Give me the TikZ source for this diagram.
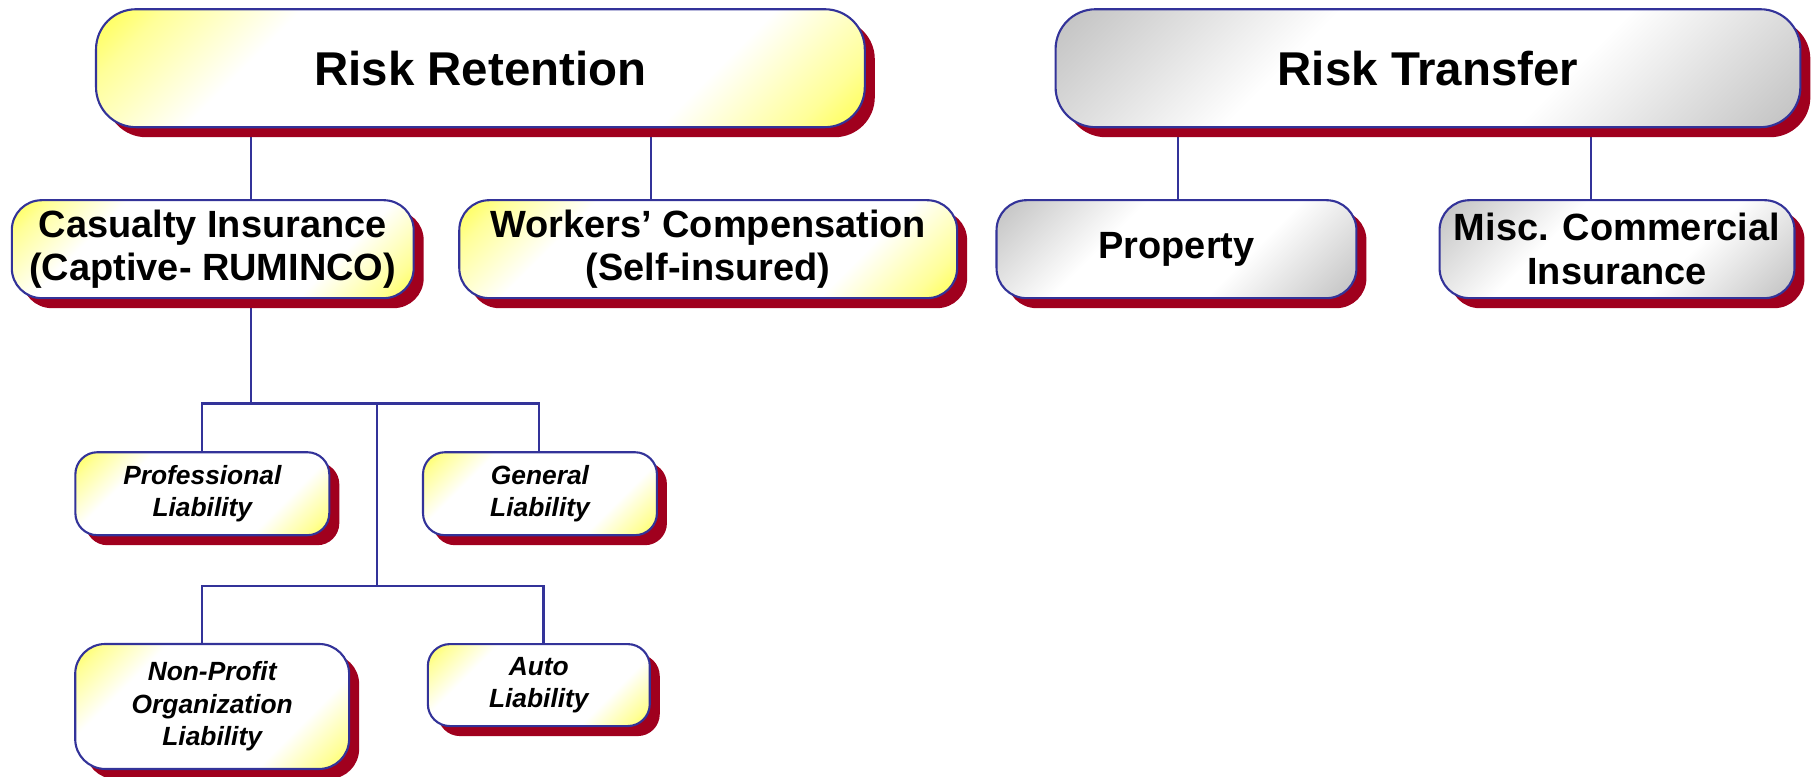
\documentclass[tikz,border=0pt]{standalone}
\usepackage{fontspec}
\setmainfont{Liberation Sans}
\usetikzlibrary{shadows, backgrounds}

\definecolor{linkblue}{HTML}{333399}
\definecolor{shadowred}{HTML}{A0001E}
\definecolor{greyedge}{HTML}{B4B4B4}
\pgfdeclarehorizontalshading{yellowglow}{100bp}{color(0bp)=(yellow); color(9bp)=(yellow); color(20bp)=(yellow!40!white); color(31bp)=(white); color(69bp)=(white); color(80bp)=(yellow!40!white); color(91bp)=(yellow); color(100bp)=(yellow)}
\pgfdeclarehorizontalshading{greyglow}{100bp}{color(0bp)=(greyedge); color(10bp)=(greyedge); color(24bp)=(greyedge!50!white); color(38bp)=(white); color(62bp)=(white); color(76bp)=(greyedge!50!white); color(90bp)=(greyedge); color(100bp)=(greyedge)}

\tikzset{
    riskbox/.style={draw=linkblue, line width=0.6pt, rounded corners=#1, inner sep=0pt, align=center,
        drop shadow={shadow xshift=0.1cm, shadow yshift=-0.1cm, fill=shadowred, opacity=1}},
    riskbox/.default=0.3cm,
    retain/.style={shading=yellowglow, shading angle=-45},
    transfer/.style={shading=greyglow, shading angle=-45},
    topfont/.style={font=\bfseries\fontsize{13.5}{16}\selectfont},
    midfont/.style={font=\bfseries\fontsize{10.8}{12.4}\selectfont},
    subfont/.style={font=\bfseries\itshape\fontsize{7.5}{9.2}\selectfont},
    link/.style={draw=linkblue, line width=0.65pt}
}

\begin{document}
\begin{tikzpicture}[x=0.011563cm, y=-0.011563cm]
    \useasboundingbox (0,0) rectangle (1568,672);
    \node[riskbox=0.4cm, retain, topfont, minimum width=7.69cm, minimum height=1.18cm] (retention) at (415.5,59) {Risk Retention};
    \node[riskbox=0.4cm, transfer, topfont, minimum width=7.45cm, minimum height=1.18cm] (transfer) at (1235,59) {Risk Transfer};
    \node[riskbox, retain, midfont, minimum width=4.02cm, minimum height=0.98cm] (casualty) at (184,215.5) {Casualty Insurance\\(Captive- RUMINCO)};
    \node[riskbox, retain, midfont, minimum width=4.98cm, minimum height=0.98cm] (workers) at (612.5,215.5) {Workers’ Compensation\\(Self-insured)};
    \node[riskbox, transfer, midfont, minimum width=3.60cm, minimum height=0.98cm] (property) at (1017.5,215.5) {Property};
    \node[riskbox, transfer, midfont, minimum width=3.55cm, minimum height=0.98cm] (misc) at (1398.5,215.5) {Misc. Commercial\\Insurance};
    \node[riskbox=0.22cm, retain, subfont, minimum width=2.54cm, minimum height=0.83cm] (professional) at (175,427) {Professional\\Liability};
    \node[riskbox=0.22cm, retain, subfont, minimum width=2.34cm, minimum height=0.83cm] (general) at (467,427) {General\\Liability};
    \node[riskbox, retain, subfont, minimum width=2.74cm, minimum height=1.25cm] (nonprofit) at (183.5,611) {Non-Profit\\Organization\\Liability};
    \node[riskbox=0.22cm, retain, subfont, minimum width=2.22cm, minimum height=0.82cm] (auto) at (466,592.5) {Auto\\Liability};

    \coordinate (c1) at (217,0);
    \coordinate (c2) at (563,0);
    \coordinate (c3) at (1019,0);
    \coordinate (c4) at (1376,0);
    \coordinate (cj) at (217,349);
    \coordinate (bar1L) at (175,349);
    \coordinate (bar1R) at (466,349);
    \coordinate (t1) at (326,349);
    \coordinate (t2) at (326,507);
    \coordinate (bar2L) at (175,507);
    \coordinate (bar2R) at (470,507);
    \begin{scope}[on background layer]
        \draw[link] (retention.south -| c1) -- (casualty.north -| c1);
        \draw[link] (retention.south -| c2) -- (workers.north -| c2);
        \draw[link] (transfer.south -| c3) -- (property.north -| c3);
        \draw[link] (transfer.south -| c4) -- (misc.north -| c4);
        \draw[link] (casualty.south -| c1) -- (cj);
        \draw[link] (professional.north -| bar1L) -- (bar1L) -- (bar1R) -- (general.north -| bar1R);
        \draw[link] (t1) -- (t2);
        \draw[link] (nonprofit.north -| bar2L) -- (bar2L) -- (bar2R) -- (auto.north -| bar2R);
    \end{scope}
\end{tikzpicture}
\end{document}
